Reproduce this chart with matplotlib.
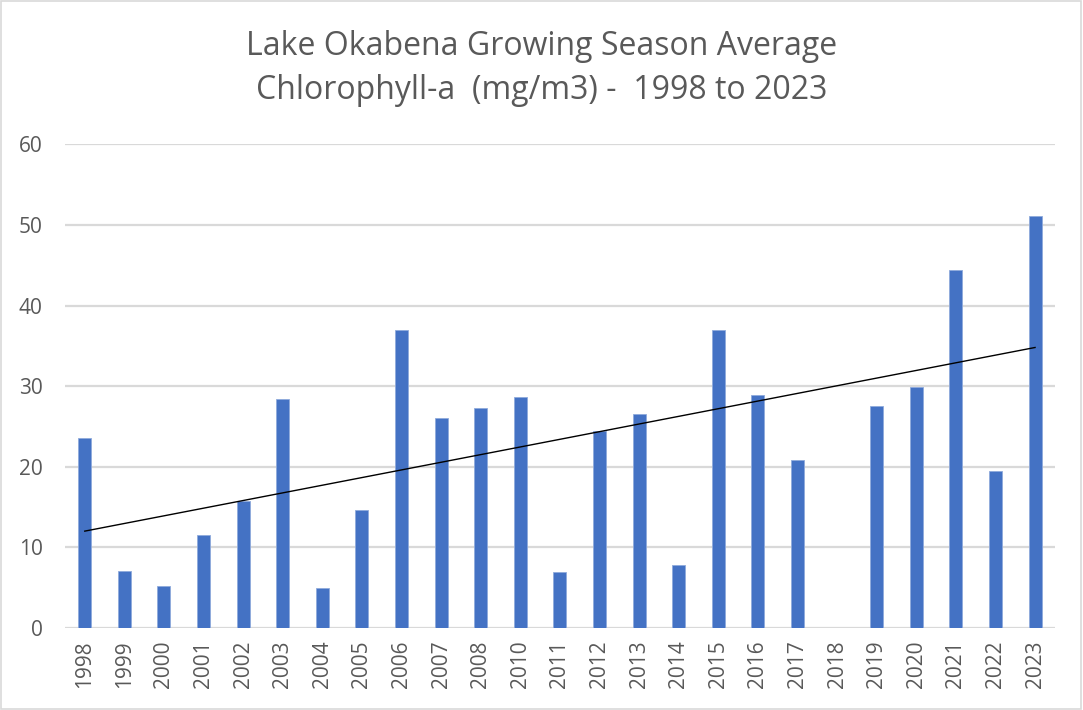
import numpy as np
import matplotlib.pyplot as plt
from matplotlib.patches import Rectangle

years = ["1998", "1999", "2000", "2001", "2002", "2003", "2004", "2005", "2006",
         "2007", "2008", "2010", "2011", "2012", "2013", "2014", "2015", "2016",
         "2017", "2018", "2019", "2020", "2021", "2022", "2023"]
chl_a = [23.6, 7.1, 5.2, 11.6, 15.8, 28.4, 5.0, 14.7, 37.0,
         26.0, 27.3, 28.7, 6.9, 24.5, 26.5, 7.8, 37.0, 28.9,
         20.9, np.nan, 27.5, 29.9, 44.4, 19.5, 51.1]

plt.rcParams['font.family'] = ['Open Sans', 'DejaVu Sans']

fig = plt.figure(figsize=(10.83, 7.10), dpi=100)
ax = fig.add_axes([0.060, 0.1155, 0.914, 0.681])

x = np.arange(len(years))
vals = np.array(chl_a, dtype=float)
ax.bar(x, np.nan_to_num(vals), width=0.33, color='#4472C4',
       edgecolor='#8FAADC', linewidth=0.6, zorder=3)

# linear trendline (Excel style, over category index, blanks skipped)
ok = ~np.isnan(vals)
slope, icpt = np.polyfit(x[ok], vals[ok], 1)
ax.plot([x[0], x[-1]], [icpt + slope * x[0], icpt + slope * x[-1]],
        color='black', linewidth=1.0, zorder=4)

ax.set_xlim(-0.5, len(years) - 0.5)
ax.set_ylim(0, 60)
ax.set_yticks(range(0, 61, 10))
ax.set_xticks(x)
ax.set_xticklabels(years, rotation=90)
ax.tick_params(axis='both', length=0, labelsize=15, labelcolor='#595959')
ax.tick_params(axis='y', pad=16)
ax.tick_params(axis='x', pad=9)
ax.grid(axis='y', color='#D9D9D9', linewidth=1.6, zorder=0)
for s in ax.spines.values():
    s.set_visible(False)

fig.text(0.5, 0.958, "Lake Okabena Growing Season Average\nChlorophyll-a  (mg/m3) -  1998 to 2023",
         ha='center', va='top', fontsize=23, color='#595959', linespacing=1.45)

fig.patches.append(Rectangle((0.001, 0.001), 0.997, 0.997, transform=fig.transFigure,
                             fill=False, edgecolor='#D9D9D9', linewidth=1.2))

fig.savefig('out.png', dpi=100)
